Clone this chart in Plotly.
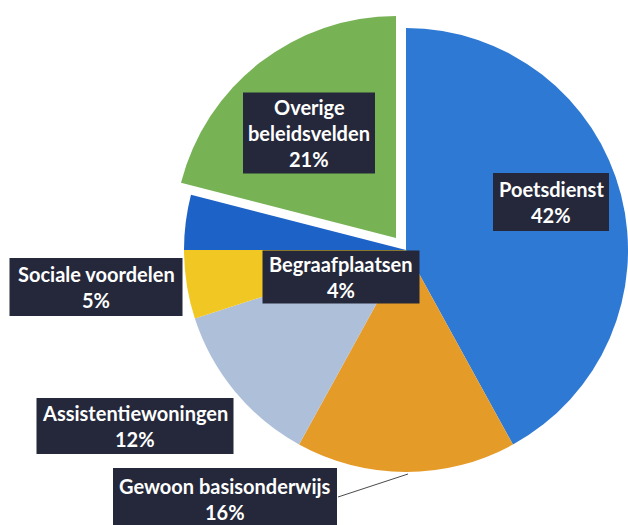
import plotly.graph_objects as go

W, H = 628, 525

labels = ["Poetsdienst", "Gewoon basisonderwijs", "Assistentiewoningen",
          "Sociale voordelen", "Begraafplaatsen", "Overige beleidsvelden"]
values = [42, 16, 12, 5, 4, 21]
box_text = ["Poetsdienst", "Gewoon basisonderwijs", "Assistentiewoningen",
            "Sociale voordelen", "Begraafplaatsen", "Overige|beleidsvelden"]
colors = ["#2e79d3", "#e59b28", "#aebfda", "#f1c823", "#1d62c6", "#77b355"]
exploded = "Overige beleidsvelden"

# pie geometry in pixels (centre x, centre y, radius) and the pull-out shift
cx, cy, r = 406, 250, 222
shift_x, shift_y = -10, -12
line_gap = 26

# label boxes: centre x, centre y, width, height (pixels)
boxes = {
    "Poetsdienst": (551, 202, 116, 58),
    "Gewoon basisonderwijs": (225, 499, 224, 62),
    "Assistentiewoningen": (135, 426, 197, 56),
    "Sociale voordelen": (96, 287, 173, 58),
    "Begraafplaatsen": (341, 277, 157, 53),
    "Overige beleidsvelden": (309, 133, 132, 81),
}


def domain(x0, y0, rad):
    return dict(x=[max(0, (x0 - rad) / W), min(1, (x0 + rad) / W)],
                y=[1 - (y0 + rad) / H, 1 - (y0 - rad) / H])


base_colors = ["rgba(0,0,0,0)" if l == exploded else c for l, c in zip(labels, colors)]
pulled_colors = [c if l == exploded else "rgba(0,0,0,0)" for l, c in zip(labels, colors)]

fig = go.Figure()
fig.add_trace(go.Pie(labels=labels, values=values, sort=False, direction="clockwise",
                     marker=dict(colors=base_colors, line=dict(width=0)),
                     textinfo="none", hoverinfo="label+percent", showlegend=False,
                     domain=domain(cx, cy, r)))
fig.add_trace(go.Pie(labels=labels, values=values, sort=False, direction="clockwise",
                     marker=dict(colors=pulled_colors, line=dict(width=0)),
                     textinfo="none", hoverinfo="skip", showlegend=False,
                     domain=domain(cx + shift_x, cy + shift_y, r)))

total = sum(values)
for lab, txt, v in zip(labels, box_text, values):
    bx, by, bw, bh = boxes[lab]
    fig.add_shape(type="rect", xref="paper", yref="paper",
                  x0=(bx - bw / 2) / W, x1=(bx + bw / 2) / W,
                  y0=1 - (by + bh / 2) / H, y1=1 - (by - bh / 2) / H,
                  fillcolor="#25283a", line=dict(width=0), layer="above")
    lines = txt.split("|") + [f"{round(100 * v / total)}%"]
    top = by - line_gap * (len(lines) - 1) / 2
    for i, ln in enumerate(lines):
        fig.add_annotation(x=bx / W, y=1 - (top + i * line_gap) / H,
                           xref="paper", yref="paper", text=f"<b>{ln}</b>",
                           showarrow=False, xanchor="center", yanchor="middle",
                           font=dict(family="Lato", size=20, color="white"))

# leader line for the outside label at the bottom
fig.add_shape(type="line", xref="paper", yref="paper",
              x0=338 / W, y0=1 - 497 / H, x1=408 / W, y1=1 - 474 / H,
              line=dict(color="#4a4a4a", width=1))

fig.update_layout(width=W, height=H, margin=dict(l=0, r=0, t=0, b=0),
                  paper_bgcolor="white", plot_bgcolor="white")
fig.write_html("out.html", config={"displayModeBar": False},
               post_script="document.body.style.margin='0';")
